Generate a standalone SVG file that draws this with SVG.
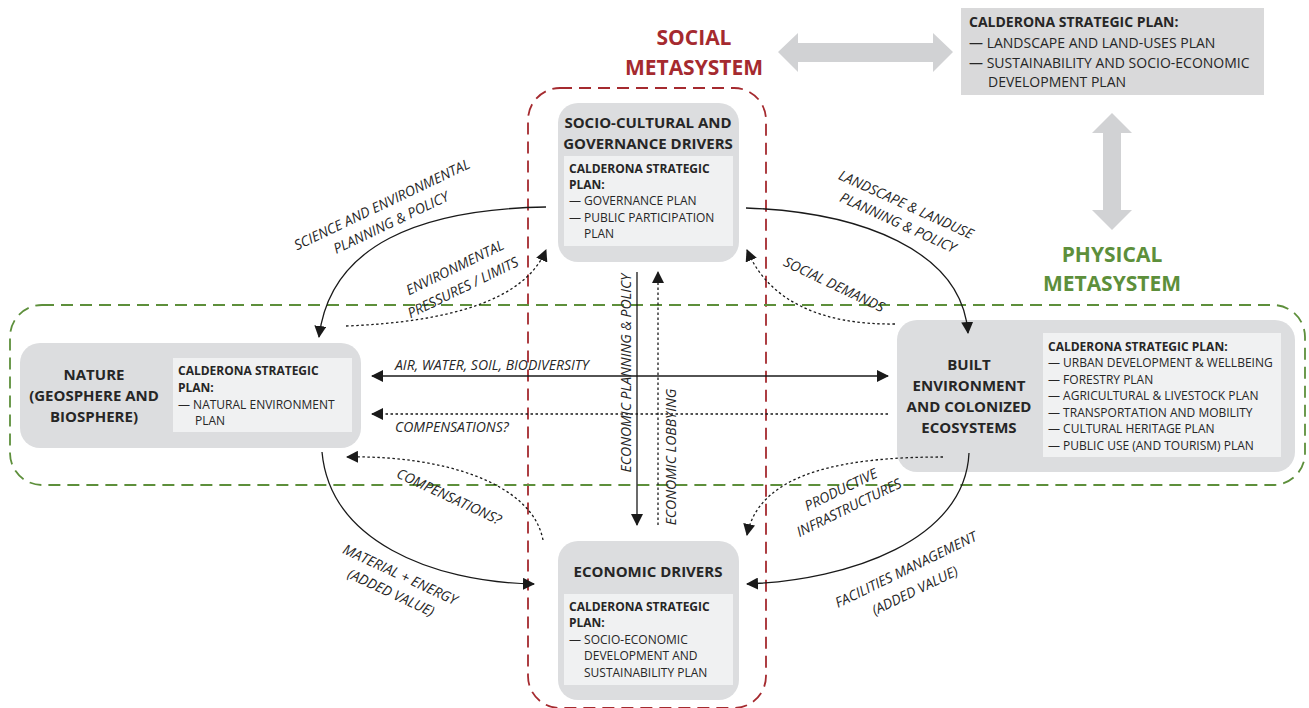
<svg xmlns="http://www.w3.org/2000/svg" width="1309" height="708" viewBox="0 0 1309 708">
<style>
text{font-family:"Open Sans","Liberation Sans",sans-serif;fill:#262626}
.node{fill:#dcdddf}
.inner{fill:#f0f1f2}
.title{font-size:15px;font-weight:bold;text-anchor:middle}
.hd{font-size:12px;font-weight:bold}
.it{font-size:12px}
.lbl{font-size:14px;font-style:italic;text-anchor:middle}
.sol{fill:none;stroke:#1a1a1a;stroke-width:1.3}
.dot{fill:none;stroke:#1a1a1a;stroke-width:1.3;stroke-dasharray:2.5 2.5}
.meta{font-size:21px;font-weight:bold;text-anchor:middle}
.pb{font-size:14px}
</style>
<defs>
<marker id="ah" viewBox="0 0 12 12" refX="11" refY="6" markerWidth="12" markerHeight="12" markerUnits="userSpaceOnUse" orient="auto-start-reverse">
<path d="M0,0 L12,6 L0,12 Z" fill="#1a1a1a"/>
</marker>
</defs>
<rect width="1309" height="708" fill="#ffffff"/>

<g id="metasystems">
<rect x="528" y="88" width="238" height="620" rx="32" fill="none" stroke="#a52a2f" stroke-width="1.8" stroke-dasharray="12 7"/>
<rect x="10" y="305" width="1295" height="180" rx="32" fill="none" stroke="#5d8f3b" stroke-width="1.8" stroke-dasharray="12 7"/>
<text class="meta" x="694" y="45" style="fill:#a52a2f">SOCIAL</text>
<text class="meta" x="694" y="75" style="fill:#a52a2f">METASYSTEM</text>
<text class="meta" x="1112" y="262" style="fill:#5d8f3b">PHYSICAL</text>
<text class="meta" x="1112" y="291" style="fill:#5d8f3b">METASYSTEM</text>
</g>

<g id="gray-arrows" fill="#d1d2d4">
<path d="M778,52 L798,33 L798,43 L933,43 L933,33 L953,52 L933,72 L933,62 L798,62 L798,72 Z"/>
<path d="M1112,113 L1132,133 L1121,133 L1121,210 L1132,210 L1112,230 L1092,210 L1103,210 L1103,133 L1092,133 Z"/>
</g>

<g id="plan-box">
<rect x="961" y="8" width="303" height="87" fill="#d9d9da"/>
<text class="pb" x="969" y="27" style="font-weight:bold">CALDERONA STRATEGIC PLAN:</text>
<text class="pb" x="969" y="48">— LANDSCAPE AND LAND-USES PLAN</text>
<text class="pb" x="969" y="68">— SUSTAINABILITY AND SOCIO-ECONOMIC</text>
<text class="pb" x="988" y="87">DEVELOPMENT PLAN</text>
</g>

<g id="socio-cultural">
<rect class="node" x="558" y="103" width="181" height="159" rx="20"/>
<text class="title" x="648" y="128">SOCIO-CULTURAL AND</text>
<text class="title" x="648" y="149">GOVERNANCE DRIVERS</text>
<rect class="inner" x="564" y="156" width="169" height="90"/>
<text class="hd" x="569" y="173">CALDERONA STRATEGIC</text>
<text class="hd" x="569" y="189">PLAN:</text>
<text class="it" x="569" y="205">— GOVERNANCE PLAN</text>
<text class="it" x="569" y="222">— PUBLIC PARTICIPATION</text>
<text class="it" x="584" y="238">PLAN</text>
</g>

<g id="nature">
<rect class="node" x="20" y="343" width="341" height="105" rx="20"/>
<text class="title" x="94" y="380">NATURE</text>
<text class="title" x="94" y="401">(GEOSPHERE AND</text>
<text class="title" x="94" y="422">BIOSPHERE)</text>
<rect class="inner" x="173" y="358" width="179" height="74"/>
<text class="hd" x="178" y="375">CALDERONA STRATEGIC</text>
<text class="hd" x="178" y="392">PLAN:</text>
<text class="it" x="178" y="409">— NATURAL ENVIRONMENT</text>
<text class="it" x="195" y="425">PLAN</text>
</g>

<g id="built">
<rect class="node" x="897" y="320" width="398" height="152" rx="20"/>
<text class="title" x="969" y="370">BUILT</text>
<text class="title" x="969" y="391">ENVIRONMENT</text>
<text class="title" x="969" y="412">AND COLONIZED</text>
<text class="title" x="969" y="433">ECOSYSTEMS</text>
<rect class="inner" x="1043" y="333" width="238" height="124"/>
<text class="hd" x="1048" y="351">CALDERONA STRATEGIC PLAN:</text>
<text class="it" x="1048" y="367">— URBAN DEVELOPMENT &amp; WELLBEING</text>
<text class="it" x="1048" y="384">— FORESTRY PLAN</text>
<text class="it" x="1048" y="400">— AGRICULTURAL &amp; LIVESTOCK PLAN</text>
<text class="it" x="1048" y="417">— TRANSPORTATION AND MOBILITY</text>
<text class="it" x="1048" y="433">— CULTURAL HERITAGE PLAN</text>
<text class="it" x="1048" y="450">— PUBLIC USE (AND TOURISM) PLAN</text>
</g>

<g id="economic">
<rect class="node" x="558" y="541" width="181" height="159" rx="20"/>
<text class="title" x="648" y="577">ECONOMIC DRIVERS</text>
<rect class="inner" x="564" y="594" width="169" height="91"/>
<text class="hd" x="569" y="611">CALDERONA STRATEGIC</text>
<text class="hd" x="569" y="627">PLAN:</text>
<text class="it" x="569" y="644">— SOCIO-ECONOMIC</text>
<text class="it" x="584" y="660">DEVELOPMENT AND</text>
<text class="it" x="584" y="677">SUSTAINABILITY PLAN</text>
</g>

<g id="connectors">
<path class="sol" d="M546,207 C420,209 330,245 319,337" marker-end="url(#ah)"/>
<path class="dot" d="M346,326 C450,322 525,300 546,250" marker-end="url(#ah)"/>
<path class="sol" d="M746,208 C860,212 962,250 968,333" marker-end="url(#ah)"/>
<path class="dot" d="M895,324 C820,325 768,300 747,250" marker-end="url(#ah)"/>
<path class="sol" d="M372,376 L888,376" marker-start="url(#ah)" marker-end="url(#ah)"/>
<path class="dot" d="M888,414 L372,414" marker-end="url(#ah)"/>
<path class="sol" d="M637,272 L637,525" marker-end="url(#ah)"/>
<path class="dot" d="M658,525 L658,272" marker-end="url(#ah)"/>
<path class="dot" d="M543,540 C532,482 440,455 347,457" marker-end="url(#ah)"/>
<path class="sol" d="M322,452 C330,540 430,582 534,584" marker-end="url(#ah)"/>
<path class="dot" d="M943,457 C850,457 760,470 747,535" marker-end="url(#ah)"/>
<path class="sol" d="M969,453 C965,540 850,580 747,584" marker-end="url(#ah)"/>
</g>

<g id="labels">
<text class="lbl" transform="translate(384,209) rotate(-25.5)">SCIENCE AND ENVIRONMENTAL</text>
<text class="lbl" transform="translate(393,227) rotate(-25.5)">PLANNING &amp; POLICY</text>
<text class="lbl" transform="translate(457,272) rotate(-26)">ENVIRONMENTAL</text>
<text class="lbl" transform="translate(465,292) rotate(-26)">PRESSURES / LIMITS</text>
<text class="lbl" transform="translate(904,209) rotate(24.5)">LANDSCAPE &amp; LANDUSE</text>
<text class="lbl" transform="translate(896,227) rotate(24.5)">PLANNING &amp; POLICY</text>
<text class="lbl" transform="translate(832,289) rotate(25.5)">SOCIAL DEMANDS</text>
<text class="lbl" x="395" y="370" style="text-anchor:start">AIR, WATER, SOIL, BIODIVERSITY</text>
<text class="lbl" x="395" y="432" style="text-anchor:start">COMPENSATIONS?</text>
<text class="lbl" transform="translate(631,373) rotate(-90)">ECONOMIC PLANNING &amp; POLICY</text>
<text class="lbl" transform="translate(676,457) rotate(-90)">ECONOMIC LOBBYING</text>
<text class="lbl" transform="translate(447,501) rotate(25)">COMPENSATIONS?</text>
<text class="lbl" transform="translate(398,579) rotate(25)">MATERIAL + ENERGY</text>
<text class="lbl" transform="translate(389,597) rotate(25)">(ADDED VALUE)</text>
<text class="lbl" transform="translate(843,494) rotate(-26)">PRODUCTIVE</text>
<text class="lbl" transform="translate(851,512) rotate(-26)">INFRASTRUCTURES</text>
<text class="lbl" transform="translate(908,574) rotate(-26)">FACILITIES MANAGEMENT</text>
<text class="lbl" transform="translate(917,595) rotate(-26)">(ADDED VALUE)</text>
</g>
</svg>
